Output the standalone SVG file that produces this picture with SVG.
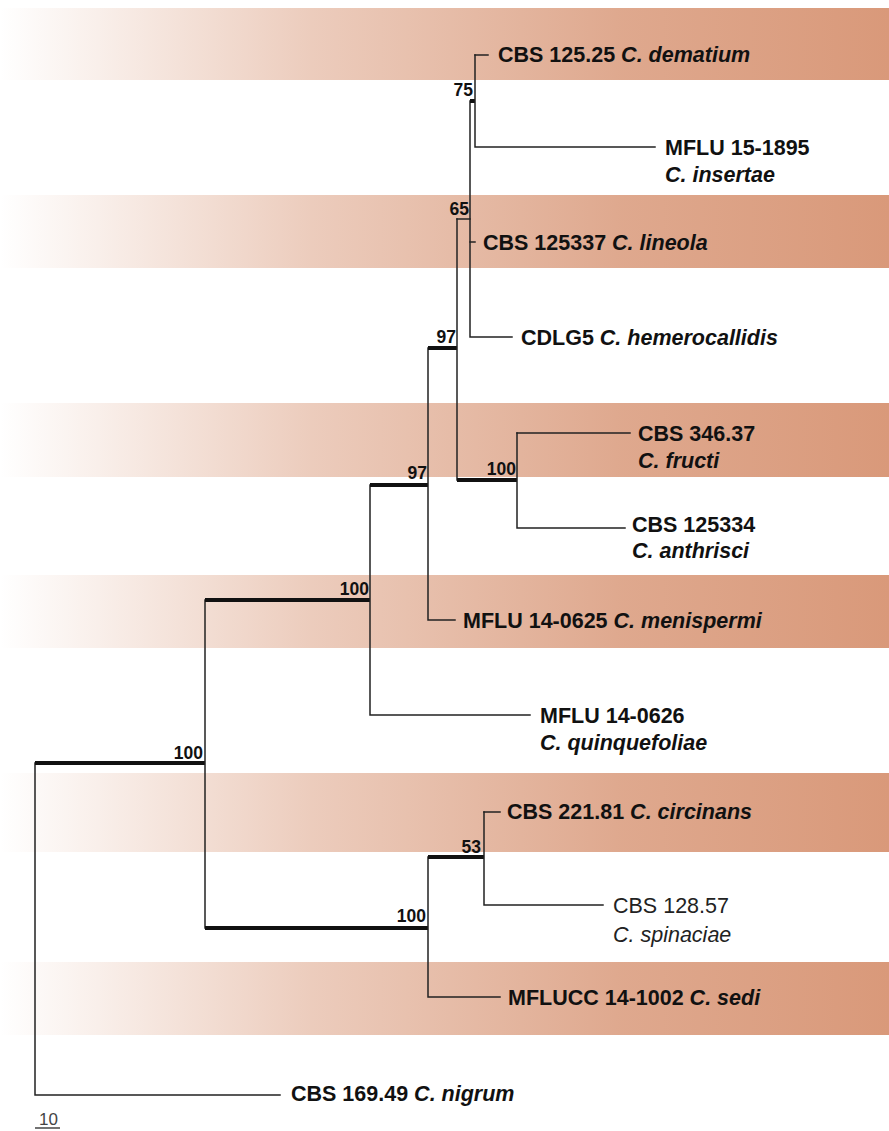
<svg xmlns="http://www.w3.org/2000/svg" width="889" height="1131" viewBox="0 0 889 1131">
  <defs>
    <linearGradient id="band" x1="0" y1="0" x2="1" y2="0">
      <stop offset="0" stop-color="#d9997a" stop-opacity="0"/>
      <stop offset="0.35" stop-color="#d9997a" stop-opacity="0.5"/>
      <stop offset="0.7" stop-color="#d9997a" stop-opacity="0.85"/>
      <stop offset="1" stop-color="#d9997a" stop-opacity="1"/>
    </linearGradient>
  </defs>
  <style>
    .band { fill: url(#band); }
    .br { stroke: #222; stroke-width: 1.5; fill: none; stroke-linecap: square; }
    .bt { stroke: #111; stroke-width: 4; fill: none; }
    .lab { font-family: "Liberation Sans", Arial, sans-serif; font-size: 21.5px; font-weight: bold; fill: #111; }
    .lab .sp { font-style: italic; }
    .reg { font-weight: normal; fill: #222; }
    .bs { font-family: "Liberation Sans", Arial, sans-serif; font-size: 17.5px; font-weight: bold; fill: #111; text-anchor: end; }
    .scale { font-family: "Liberation Sans", Arial, sans-serif; font-size: 17px; fill: #444; }
  </style>

  <!-- clade shading bands -->
  <g id="bands">
    <rect class="band" x="0" y="8" width="889" height="72"/>
    <rect class="band" x="0" y="195" width="889" height="73"/>
    <rect class="band" x="0" y="403" width="889" height="74"/>
    <rect class="band" x="0" y="575" width="889" height="73"/>
    <rect class="band" x="0" y="773" width="889" height="79"/>
    <rect class="band" x="0" y="962" width="889" height="73"/>
  </g>

  <!-- tree branches -->
  <g id="connectors">
    <!-- root -->
    <path class="br" d="M35 763 V1095 H280"/>
    <path class="bt" d="M35 763 H205"/>
    <!-- main split -->
    <path class="br" d="M205 600 V928"/>
    <path class="bt" d="M205 600 H370"/>
    <path class="bt" d="M205 928 H428"/>
    <!-- upper clade -->
    <path class="br" d="M370 485 V715 H530"/>
    <path class="bt" d="M370 485 H428"/>
    <path class="br" d="M428 348 V620 H455"/>
    <path class="bt" d="M428 348 H457"/>
    <path class="br" d="M457 219 V480"/>
    <path class="br" d="M457 219 H470"/>
    <path class="bt" d="M457 480 H517"/>
    <path class="br" d="M470 101 V337 H512"/>
    <path class="br" d="M470 242 H475"/>
    <path class="bt" d="M470 101 H475"/>
    <path class="br" d="M475 55 V147 H655"/>
    <path class="br" d="M475 55 H488"/>
    <path class="br" d="M517 433 V528 H625"/>
    <path class="br" d="M517 433 H630"/>
    <!-- lower clade -->
    <path class="br" d="M428 857 V997 H500"/>
    <path class="bt" d="M428 857 H484"/>
    <path class="br" d="M484 812 V905 H603"/>
    <path class="br" d="M484 812 H500"/>
  </g>

  <!-- support values -->
  <g id="support">
    <text class="bs" x="473" y="96">75</text>
    <text class="bs" x="469" y="215">65</text>
    <text class="bs" x="456" y="343">97</text>
    <text class="bs" x="427" y="479">97</text>
    <text class="bs" x="516" y="475">100</text>
    <text class="bs" x="369" y="595">100</text>
    <text class="bs" x="203" y="759">100</text>
    <text class="bs" x="481" y="853">53</text>
    <text class="bs" x="426" y="922">100</text>
  </g>

  <!-- taxa -->
  <g id="taxon-dematium"><text class="lab" x="498" y="62">CBS 125.25 <tspan class="sp">C. dematium</tspan></text></g>
  <g id="taxon-insertae"><text class="lab" x="665" y="155">MFLU 15-1895</text><text class="lab" x="665" y="182"><tspan class="sp">C. insertae</tspan></text></g>
  <g id="taxon-lineola"><text class="lab" x="483" y="250">CBS 125337 <tspan class="sp">C. lineola</tspan></text></g>
  <g id="taxon-hemerocallidis"><text class="lab" x="521" y="345">CDLG5 <tspan class="sp">C. hemerocallidis</tspan></text></g>
  <g id="taxon-fructi"><text class="lab" x="638" y="441">CBS 346.37</text><text class="lab" x="638" y="468"><tspan class="sp">C. fructi</tspan></text></g>
  <g id="taxon-anthrisci"><text class="lab" x="632" y="532">CBS 125334</text><text class="lab" x="632" y="558"><tspan class="sp">C. anthrisci</tspan></text></g>
  <g id="taxon-menispermi"><text class="lab" x="463" y="628">MFLU 14-0625 <tspan class="sp">C. menispermi</tspan></text></g>
  <g id="taxon-quinquefoliae"><text class="lab" x="540" y="723">MFLU 14-0626</text><text class="lab" x="540" y="750"><tspan class="sp">C. quinquefoliae</tspan></text></g>
  <g id="taxon-circinans"><text class="lab" x="507" y="819">CBS 221.81 <tspan class="sp">C. circinans</tspan></text></g>
  <g id="taxon-spinaciae"><text class="lab reg" x="613" y="913">CBS 128.57</text><text class="lab reg" x="613" y="942"><tspan class="sp">C. spinaciae</tspan></text></g>
  <g id="taxon-sedi"><text class="lab" x="508" y="1005">MFLUCC 14-1002 <tspan class="sp">C. sedi</tspan></text></g>
  <g id="taxon-nigrum"><text class="lab" x="291" y="1101">CBS 169.49 <tspan class="sp">C. nigrum</tspan></text></g>

  <!-- scale bar -->
  <g id="scale-bar">
    <text class="scale" x="39" y="1125">10</text>
    <path d="M35 1128 H60" stroke="#444" stroke-width="1.5"/>
  </g>
</svg>
